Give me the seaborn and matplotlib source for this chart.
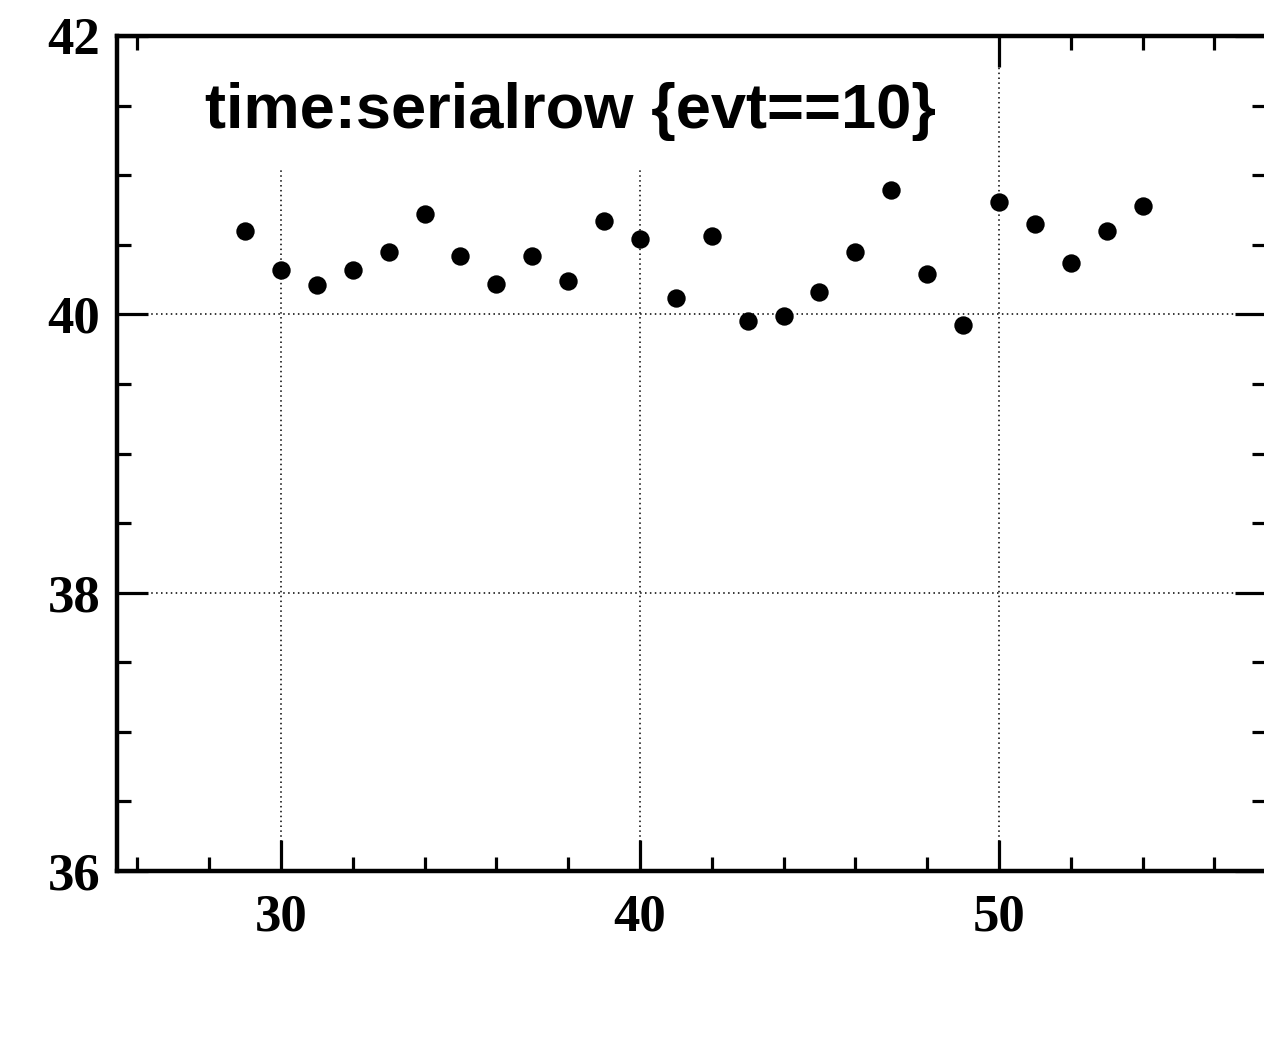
import matplotlib
matplotlib.use("Agg")
import matplotlib.pyplot as plt
import seaborn as sns
import pandas as pd
from matplotlib.patches import Rectangle
from matplotlib.ticker import MultipleLocator

serialrow = [29, 30, 31, 32, 33, 34, 35, 36, 37, 38, 39, 40, 41,
             42, 43, 44, 45, 46, 47, 48, 49, 50, 51, 52, 53, 54]
time_vals = [40.60, 40.32, 40.21, 40.32, 40.45, 40.72, 40.42, 40.22, 40.42,
             40.24, 40.67, 40.54, 40.12, 40.56, 39.95, 39.99, 40.16, 40.45,
             40.89, 40.29, 39.92, 40.81, 40.65, 40.37, 40.60, 40.78]
title_text = "time:serialrow {evt==10}"
x_major = [30, 40, 50]
y_major = [36, 38, 40, 42]

df = pd.DataFrame({"serialrow": serialrow, "time": time_vals})

sns.set_theme(style="white")
plt.rcParams["font.family"] = ["Liberation Serif", "DejaVu Serif"]
plt.rcParams["text.color"] = "black"
plt.rcParams["xtick.color"] = "black"
plt.rcParams["ytick.color"] = "black"
plt.rcParams["xtick.labelcolor"] = "black"
plt.rcParams["ytick.labelcolor"] = "black"

W, H = 1264, 1042
right_px = 1266
fig = plt.figure(figsize=(W / 100, H / 100), dpi=100)
ax = fig.add_axes([117 / W, (H - 871) / H, (right_px - 117) / W, (871 - 36) / H])

ax.set_axisbelow(True)
ax.grid(True, which="major", linestyle=(0, (1, 2.2)), color="black", linewidth=1.1)

sns.scatterplot(data=df, x="serialrow", y="time", ax=ax, color="black",
                s=175, edgecolor="black", linewidth=0, zorder=3, legend=False)

ax.set_xlim(25.432, 25.432 + (right_px - 117) / 35.9)
ax.set_ylim(36, 42)
ax.set_xticks(x_major)
ax.set_yticks(y_major)
ax.xaxis.set_minor_locator(MultipleLocator(2))
ax.yaxis.set_minor_locator(MultipleLocator(0.5))

ax.tick_params(axis="both", which="major", direction="in", length=22, width=2.3,
               top=True, right=True, bottom=True, left=True, color="black")
ax.tick_params(axis="both", which="minor", direction="in", length=10, width=2.3,
               top=True, right=True, bottom=True, left=True, color="black")
ax.tick_params(axis="x", which="major", pad=16, labelsize=38, labelcolor="black")
ax.tick_params(axis="y", which="major", pad=12, labelsize=38, labelcolor="black")
for lab in ax.get_xticklabels() + ax.get_yticklabels():
    lab.set_fontweight("bold")

for side, sp in ax.spines.items():
    sp.set_visible(True)
    sp.set_color("black")
    sp.set_linewidth(3.2)

ax.set_xlabel("")
ax.set_ylabel("")

# ROOT-like title box covering grid
ax.add_patch(Rectangle((0.029, 0.842), 0.72, 0.156, transform=ax.transAxes,
                       facecolor="white", edgecolor="none", zorder=1.5))
ax.text(205 / W, (H - 128) / H, title_text,
        transform=fig.transFigure, fontsize=45.5, fontweight="bold", color="black",
        family=["Liberation Sans", "DejaVu Sans"], ha="left", va="baseline", zorder=4)

fig.savefig("out.png", dpi=100, facecolor="white")
